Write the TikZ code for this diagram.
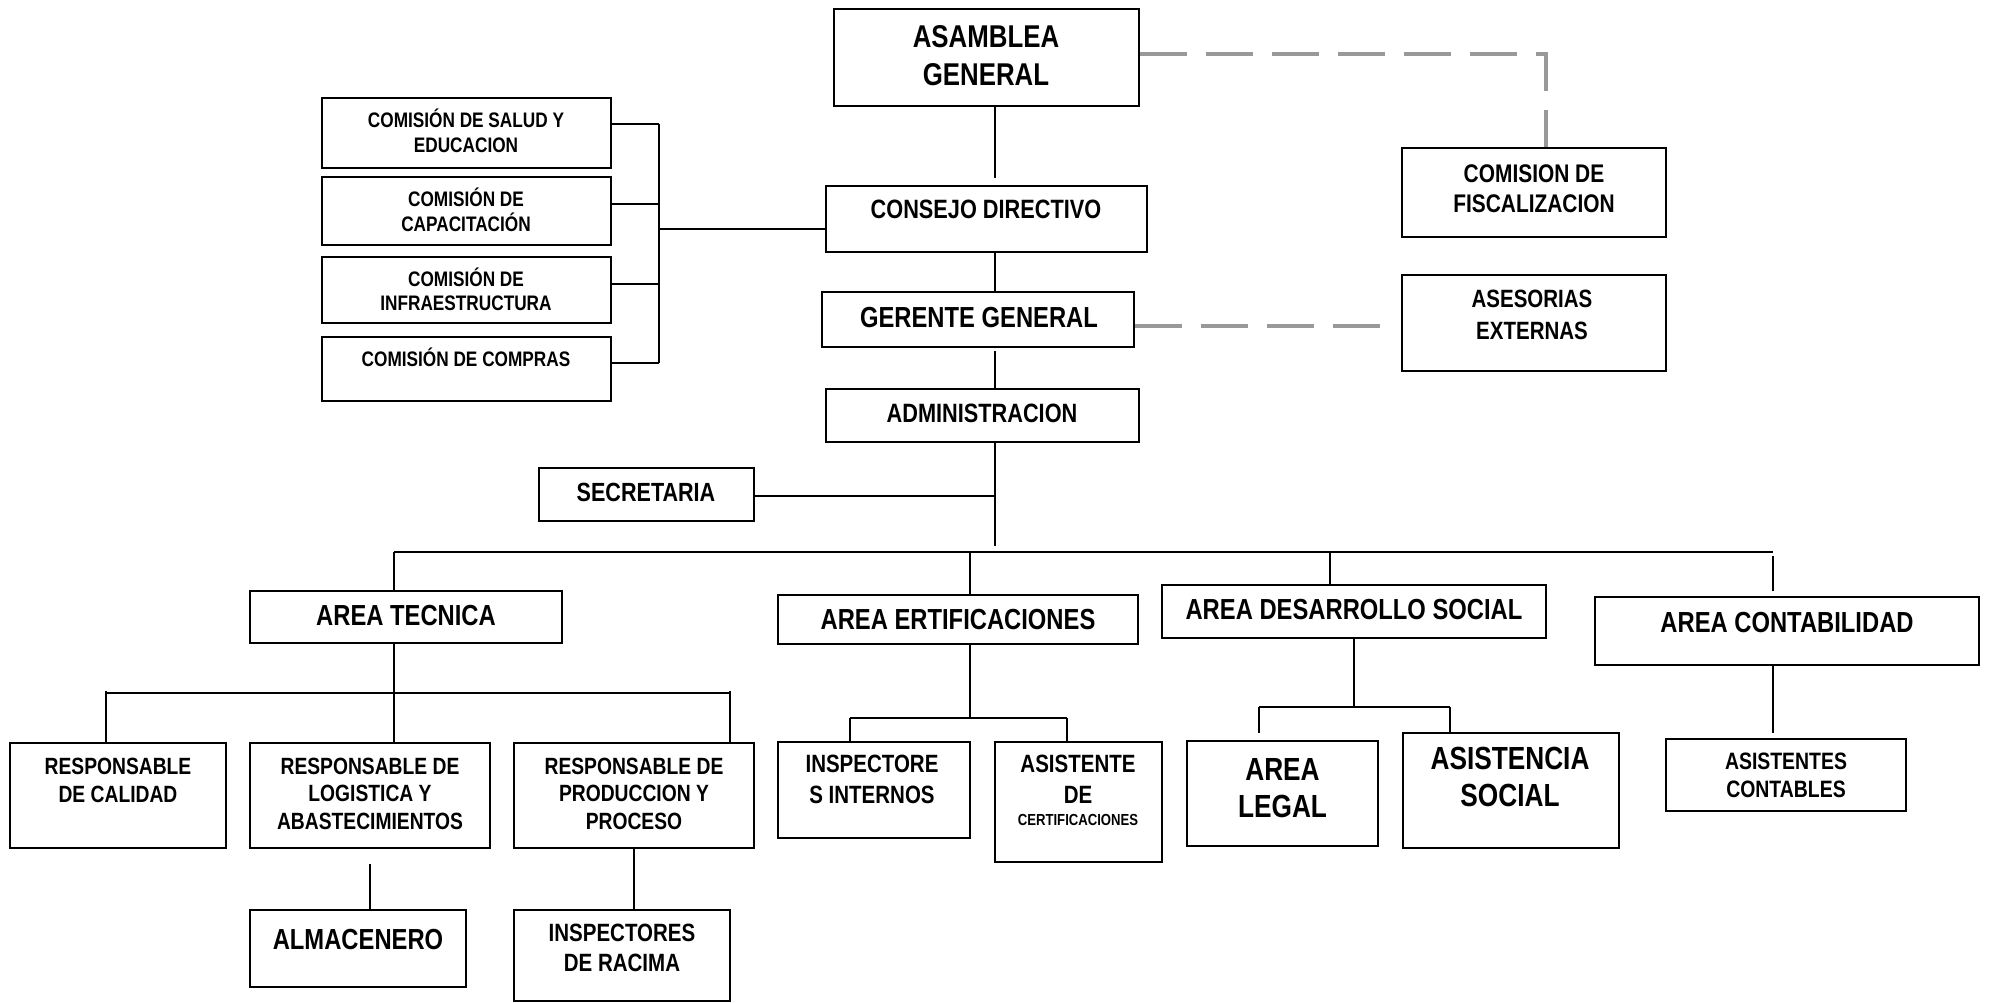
\documentclass[tikz,border=0pt]{standalone}
\usepackage{fontspec}
\setmainfont{Liberation Sans}[FakeStretch=0.82]
\newcommand\fs[2]{\fontsize{#1}{#2}\selectfont\bfseries}
\newcommand\obox[5]{\node[box, minimum width={(#4-#2)*1pt}, minimum height={(#5-#3)*1pt}] (#1) at ({(#2+#4)/2},{(#3+#5)/2}) {};}
\begin{document}
\begin{tikzpicture}[x=1pt,y=-1pt,
  box/.style={draw=black, line width=2pt, rectangle, inner sep=0pt, fill=white},
  txt/.style={align=center, inner sep=0pt, text=black},
  ln/.style={draw=black, line width=1.6pt},
  busln/.style={draw=black, line width=2.8pt},
  dsh/.style={draw=black!40, line width=4pt, dash pattern=on 47pt off 19pt}]
\useasboundingbox[fill=white] (0,0) rectangle (1989,1003);

% ---- boxes ----
\obox{asam}{834}{9}{1139}{106}
\obox{fisc}{1402}{148}{1666}{237}
\obox{ases}{1402}{275}{1666}{371}
\obox{cons}{826}{186}{1147}{252}
\obox{ger}{822}{292}{1134}{347}
\obox{adm}{826}{389}{1139}{442}
\obox{com1}{322}{98}{611}{168}
\obox{com2}{322}{177}{611}{245}
\obox{com3}{322}{257}{611}{323}
\obox{com4}{322}{337}{611}{401}
\obox{sec}{539}{468}{754}{521}
\obox{tec}{250}{591}{562}{643}
\obox{ert}{778}{595}{1138}{644}
\obox{des}{1162}{585}{1546}{638}
\obox{con}{1595}{597}{1979}{665}
\obox{cal}{10}{743}{226}{848}
\obox{log}{250}{743}{490}{848}
\obox{pro}{514}{743}{754}{848}
\obox{alm}{250}{910}{466}{987}
\obox{rac}{514}{910}{730}{1001}
\obox{ins}{778}{742}{970}{838}
\obox{asi}{995}{742}{1162}{862}
\obox{leg}{1187}{741}{1378}{846}
\obox{soc}{1403}{733}{1619}{848}
\obox{asc}{1666}{739}{1906}{811}

% ---- texts ----
\node[txt, font=\fs{31.5}{38}] (asam-t) at (986,56) {ASAMBLEA\\GENERAL};
\node[txt, font=\fs{25.5}{30}] (fisc-t) at (1534,189) {COMISION DE\\FISCALIZACION};
\node[txt, font=\fs{25}{32}] (ases-t) at (1532,315) {ASESORIAS\\EXTERNAS};
\node[txt, font=\fs{26.5}{30}] (cons-t) at (986,209) {CONSEJO DIRECTIVO};
\node[txt, font=\fs{29}{33}] (ger-t) at (979,318) {GERENTE GENERAL};
\node[txt, font=\fs{26.5}{30}] (adm-t) at (982,413) {ADMINISTRACION};
\node[txt, font=\fs{21}{24.5}] (com1-t) at (466,131) {COMISIÓN DE SALUD Y\\EDUCACION};
\node[txt, font=\fs{21}{24.5}] (com2-t) at (466,210) {COMISIÓN DE\\CAPACITACIÓN};
\node[txt, font=\fs{21}{24.5}] (com3-t) at (466,289.5) {COMISIÓN DE\\INFRAESTRUCTURA};
\node[txt, font=\fs{21}{24.5}] (com4-t) at (466,357) {COMISIÓN DE COMPRAS};
\node[txt, font=\fs{26.3}{30}] (sec-t) at (646,492) {SECRETARIA};
\node[txt, font=\fs{29}{33}] (tec-t) at (406,616) {AREA TECNICA};
\node[txt, font=\fs{29}{33}] (ert-t) at (958,620) {AREA ERTIFICACIONES};
\node[txt, font=\fs{29}{33}] (des-t) at (1354,610) {AREA DESARROLLO SOCIAL};
\node[txt, font=\fs{29}{33}] (con-t) at (1787,623) {AREA CONTABILIDAD};
\node[txt, font=\fs{23.5}{28}] (cal-t) at (118,780) {RESPONSABLE\\DE CALIDAD};
\node[txt, font=\fs{23.5}{27.5}] (log-t) at (370,793.5) {RESPONSABLE DE\\LOGISTICA Y\\ABASTECIMIENTOS};
\node[txt, font=\fs{23.5}{27.5}] (pro-t) at (634,793.5) {RESPONSABLE DE\\PRODUCCION Y\\PROCESO};
\node[txt, font=\fs{29}{33}] (alm-t) at (358,940) {ALMACENERO};
\node[txt, font=\fs{25}{30}] (rac-t) at (622,948) {INSPECTORES\\DE RACIMA};
\node[txt, font=\fs{25}{31}] (ins-t) at (872,779.5) {INSPECTORE\\S INTERNOS};
\node[txt, font=\fs{25}{31}, anchor=north] (asi-t) at (1078,755) {ASISTENTE\\DE\\[-9pt]{\fs{16}{22}CERTIFICACIONES}};
\node[txt, font=\fs{32}{37}] (leg-t) at (1282.5,788.5) {AREA\\LEGAL};
\node[txt, font=\fs{32}{37}] (soc-t) at (1510,776.5) {ASISTENCIA\\SOCIAL};
\node[txt, font=\fs{23.7}{28}] (asc-t) at (1786,775) {ASISTENTES\\CONTABLES};

% ---- connectors ----
\coordinate (sp) at (995,0);
\draw[ln] (sp |- asam.south) -- ([yshift=7pt]sp |- cons.north);
\draw[ln] (sp |- cons.south) -- (sp |- ger.north);
\draw[ln] ([yshift=-3pt]sp |- ger.south) -- (sp |- adm.north);

\coordinate (bt) at (659,124);
\coordinate (c2) at (659,204);
\coordinate (c3) at (659,284);
\coordinate (bb) at (659,363);
\coordinate (bk) at (659,229);
\draw[ln] (bt) -- (bb);
\draw[ln] (bt -| com1.east) -- (bt);
\draw[ln] (c2 -| com2.east) -- (c2);
\draw[ln] (c3 -| com3.east) -- (c3);
\draw[ln] (bb -| com4.east) -- (bb);
\draw[ln] (bk) -- (bk -| cons.west);

\coordinate (sj) at (995,496);
\draw[ln] (sj -| sec.east) -- (sj);
\coordinate (bus) at (995,552);
\draw[ln] (sp |- adm.south) -- ([yshift=6pt]bus);
\coordinate (busL) at (394,552);
\coordinate (busR) at (1773,552);
\coordinate (bE) at (970,552);
\coordinate (bD) at (1330,552);
\draw[busln] (busL) -- (busR);
\draw[ln] (busL) -- (busL |- tec.north);
\draw[ln] (bE) -- (bE |- ert.north);
\draw[ln] (bD) -- (bD |- des.north);
\draw[ln] ([yshift=-4pt]busR) -- ([yshift=5pt]busR |- con.north);

\coordinate (tb) at (394,693);
\coordinate (tL) at (106,693);
\coordinate (tR) at (730,693);
\draw[ln] (tb |- tec.south) -- (tb |- log.north);
\draw[ln] (tL) -- (tR);
\draw[ln] ([yshift=2pt]tL) -- (tL |- cal.north);
\draw[ln] ([yshift=2pt]tR) -- (tR |- pro.north);
\draw[ln] ([yshift=-15pt]log.south) -- (log.south |- alm.north);
\draw[ln] (pro.south) -- (pro.south |- rac.north);

\coordinate (eb) at (970,718);
\coordinate (eL) at (850,718);
\coordinate (eR) at (1067,718);
\draw[ln] (eb |- ert.south) -- (eb);
\draw[ln] (eL) -- (eR);
\draw[ln] (eL) -- (eL |- ins.north);
\draw[ln] (eR) -- (eR |- asi.north);

\coordinate (db) at (1354,707);
\coordinate (dL) at (1259,707);
\coordinate (dR) at (1450,707);
\draw[ln] (db |- des.south) -- (db);
\draw[ln] (dL) -- (dR);
\draw[ln] (dL) -- ([yshift=7pt]dL |- leg.north);
\draw[ln] (dR) -- (dR |- soc.north);

\draw[ln] (busR |- con.south) -- ([yshift=5pt]busR |- asc.north);

% ---- dashed ----
\coordinate (fc) at (1546,54);
\draw[dsh] (fc -| asam.east) -- (fc) -- (fc |- fisc.north);
\coordinate (gy) at (0,326);
\draw[dsh] (gy -| ger.east) -- ([xshift=-13pt]gy -| ases.west);
\end{tikzpicture}
\end{document}
